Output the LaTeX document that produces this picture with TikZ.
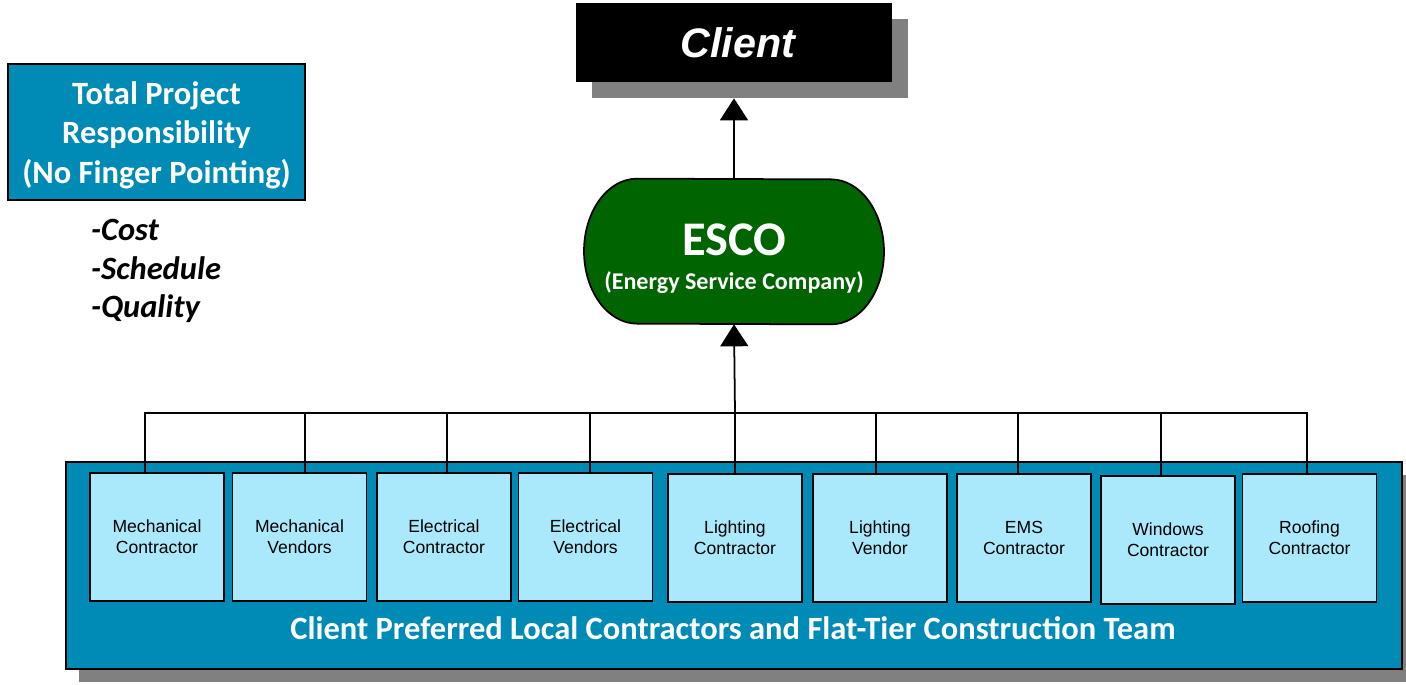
\documentclass[tikz,border=0pt]{standalone}
\usepackage{fontspec}
\setmainfont{Carlito}
\newfontfamily\arialfont{Liberation Sans}
\usetikzlibrary{arrows.meta,shadows,backgrounds,positioning}
\definecolor{teamblue}{RGB}{0,138,182}
\definecolor{partcyan}{RGB}{170,233,252}
\definecolor{escogreen}{RGB}{0,100,0}
\definecolor{shadowgray}{RGB}{128,128,128}

\begin{document}
\begin{tikzpicture}[x=0.02cm,y=-0.02cm,
    part/.style={rectangle,draw,line width=1pt,fill=partcyan,minimum width=2.68cm,
        minimum height=2.56cm,align=center,font=\arialfont\fontsize{10}{12}\selectfont},
    grayshadow/.style={drop shadow={shadow xshift=#1,shadow yshift=-#1,opacity=1,fill=shadowgray}},
    uparrow/.style={line width=1pt,-{Triangle[width=0.56cm,length=0.44cm]}},
    link/.style={line width=1pt}]
    \useasboundingbox (0,0) rectangle (1406,684);
    % left note
    \node[rectangle,draw,line width=1pt,fill=teamblue,text=white,minimum width=5.94cm,
        minimum height=2.72cm,align=center,font=\bfseries\fontsize{18.5}{22.5}\selectfont]
        (resp) at (156.5,132) {\rule{0pt}{16.5pt}Total Project\\Responsibility\\(No Finger Pointing)};
    \node[anchor=west,align=left,font=\bfseries\itshape\fontsize{18.5}{22}\selectfont]
        (goals) at (85,271) {-Cost\\-Schedule\\-Quality};
    % client and esco
    \node[rectangle,fill=black,text=white,grayshadow=0.32cm,minimum width=6.28cm,
        minimum height=1.58cm,text width=6.1cm,align=center,
        font=\arialfont\bfseries\itshape\fontsize{23.5}{26}\selectfont]
        (client) at (734,42.5) {\hspace*{0.15cm}Client};
    \node[minimum width=6cm,minimum height=2.9cm,align=center,text=white]
        (esco) at (734,251.5) {{\bfseries\fontsize{27.5}{30}\selectfont\rule{0pt}{26pt}ESCO}\\[7pt]
        {\bfseries\fontsize{13.7}{15}\selectfont (Energy Service Company)}};
    \begin{scope}[on background layer]
        \draw[line width=1pt,fill=escogreen] ([xshift=-1.94cm]esco.north)
            arc[start angle=90,end angle=270,x radius=1.06cm,y radius=1.45cm]
            -- ([xshift=1.94cm]esco.south)
            arc[start angle=-90,end angle=90,x radius=1.06cm,y radius=1.45cm] -- cycle;
    \end{scope}
    % team
    \node[rectangle,draw,line width=1pt,fill=teamblue,grayshadow=0.26cm,
        minimum width=26.72cm,minimum height=4.14cm] (team) at (734,565.5) {};
    \node[text=white,font=\bfseries\fontsize{18.5}{20}\selectfont] (teamlabel) at (733,628)
        {Client Preferred Local Contractors and Flat-Tier Construction Team};
    \node[part] (m1) at (157,537) {Mechanical\\Contractor};
    \node[part] (m2) at (299.5,537) {Mechanical\\Vendors};
    \node[part] (m3) at (444,537) {Electrical\\Contractor};
    \node[part] (m4) at (585.5,537) {Electrical\\Vendors};
    \node[part] (m5) at (735,538) {Lighting\\Contractor};
    \node[part] (m6) at (880,538) {Lighting\\Vendor};
    \node[part] (m7) at (1024,538) {EMS\\Contractor};
    \node[part] (m8) at (1168,540) {Windows\\Contractor};
    \node[part] (m9) at (1309.5,538) {Roofing\\Contractor};
    \coordinate (bus) at (735,413);
    % connectors
    \draw[link] ([xshift=-0.24cm]m1.north) -- ([xshift=-0.24cm]m1.north |- bus) -- ([xshift=-0.05cm]m9.north |- bus) -- ([xshift=-0.05cm]m9.north);
    \draw[link] ([xshift=0.11cm]m2.north) -- ([xshift=0.11cm]m2.north |- bus);
    \draw[link] ([xshift=0.06cm]m3.north) -- ([xshift=0.06cm]m3.north |- bus);
    \draw[link] ([xshift=0.09cm]m4.north) -- ([xshift=0.09cm]m4.north |- bus);
    \draw[link] (m5.north) -- (m5.north |- bus);
    \draw[link] ([xshift=-0.08cm]m6.north) -- ([xshift=-0.08cm]m6.north |- bus);
    \draw[link] ([xshift=-0.12cm]m7.north) -- ([xshift=-0.12cm]m7.north |- bus);
    \draw[link] ([xshift=-0.14cm]m8.north) -- ([xshift=-0.14cm]m8.north |- bus);
    \draw[uparrow] (bus) -- (esco.south);
    \draw[uparrow,shorten >=0.32cm] (esco.north) -- (client.south);
\end{tikzpicture}
\end{document}
